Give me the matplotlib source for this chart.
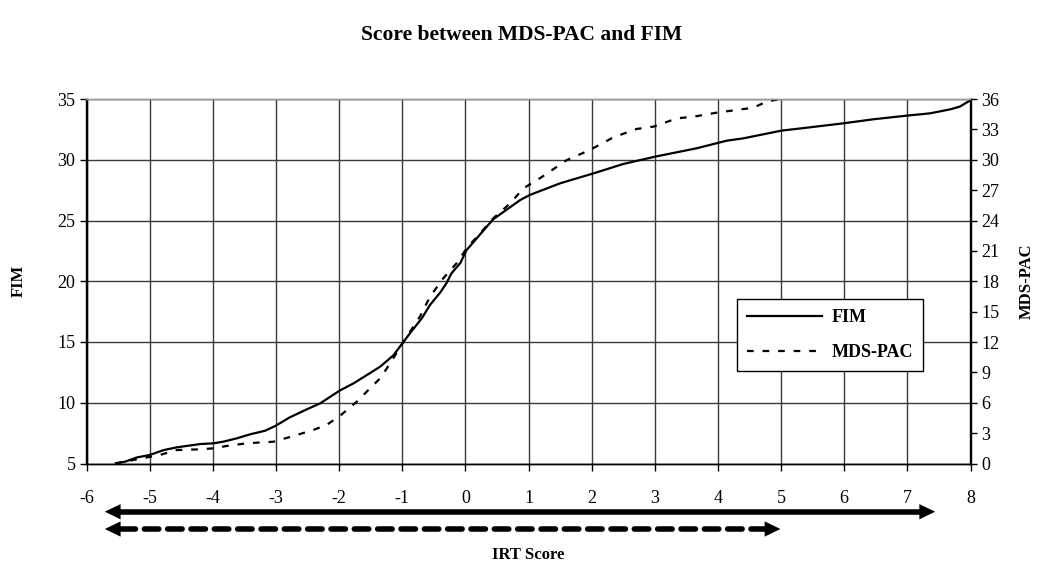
import matplotlib
matplotlib.use("Agg")
import matplotlib.pyplot as plt
import matplotlib.patches as mpatches
from matplotlib.lines import Line2D

# ---- data ----
fim_x = [-5.55, -5.39, -5.2, -5.0, -4.78, -4.57, -4.2, -3.99, -3.83, -3.62, -3.41, -3.17,
         -3.01, -2.78, -2.51, -2.30, -1.99, -1.77, -1.56, -1.35, -1.14, -0.99, -0.88, -0.69,
         -0.56, -0.40, -0.30, -0.22, -0.08, 0.02, 0.44, 0.87, 1.02, 1.5, 2.03, 2.50, 3.0,
         3.66, 4.14, 4.40, 5.01, 5.41, 5.99, 6.46, 6.99, 7.36, 7.68, 7.83, 8.0]
fim_y = [5.0, 5.15, 5.5, 5.7, 6.1, 6.33, 6.6, 6.66, 6.8, 7.07, 7.4, 7.7,
         8.09, 8.8, 9.46, 9.95, 11.0, 11.6, 12.28, 12.97, 13.9, 14.94, 15.7, 16.95,
         18.05, 19.06, 19.83, 20.65, 21.5, 22.57, 25.1, 26.69, 27.1, 28.06, 28.88, 29.65, 30.25,
         30.94, 31.57, 31.76, 32.4, 32.64, 33.0, 33.33, 33.63, 33.82, 34.15, 34.37, 34.9]

mds_x = [-5.55, -4.84, -4.57, -4.2, -3.99, -3.78, -3.46, -3.04, -2.72, -2.41, -2.20, -1.99,
         -1.72, -1.51, -1.35, -1.19, -0.98, -0.72, -0.56, -0.35, -0.14, 0.02, 0.28, 0.44,
         0.71, 0.92, 1.18, 1.61, 1.97, 2.34, 2.71, 2.98, 3.35, 3.61, 3.98, 4.56, 4.77, 4.96]
mds_y = [0.0, 0.84, 1.33, 1.40, 1.5, 1.73, 2.0, 2.15, 2.72, 3.31, 3.80, 4.69,
         6.1, 7.42, 8.41, 9.9, 12.03, 14.5, 16.47, 18.29, 19.77, 21.25, 23.06, 24.2,
         25.7, 27.18, 28.17, 29.98, 30.96, 32.2, 33.04, 33.27, 34.09, 34.25, 34.65, 35.14, 35.74, 35.97]

x_ticks = list(range(-6, 9))
fim_ticks = [5, 10, 15, 20, 25, 30, 35]
mds_ticks = list(range(0, 37, 3))

fim_range = [-5.71, 7.44]
mds_range = [-5.71, 4.99]

title = "Score between MDS-PAC and FIM"
xlabel = "IRT Score"
ylabel_left = "FIM"
ylabel_right = "MDS-PAC"

# ---- figure ----
plt.rcParams['font.family'] = ['Liberation Serif', 'DejaVu Serif']
fig = plt.figure(figsize=(10.44, 5.78), dpi=100)
ax = fig.add_axes([86.5/1044, 1 - 463.5/578, (970.5-86.5)/1044, (463.5-99)/578])
ax2 = ax.twinx()

grid_c = '#3a3a3a'
ax.set_xlim(-6, 8)
ax.set_ylim(5, 35)
ax2.set_ylim(0, 36)
ax.set_xticks(x_ticks)
ax.set_xticklabels([str(v) for v in x_ticks])
ax.set_yticks(fim_ticks)
ax2.set_yticks(mds_ticks)
ax.grid(True, color=grid_c, lw=1.0)
ax.set_axisbelow(True)

ax.tick_params(axis='both', direction='out', length=5, width=1, labelsize=13, color='black', pad=3)
ax.tick_params(axis='x', pad=14)
ax2.tick_params(axis='y', direction='out', length=5, width=1, labelsize=13, pad=3)

for a in (ax, ax2):
    a.spines['top'].set_color('#999999')
    a.spines['left'].set_color('black')
    a.spines['right'].set_color('black')
    a.spines['bottom'].set_color('black')
    for s in a.spines.values():
        s.set_linewidth(1.0)

l1, = ax.plot(fim_x, fim_y, color='black', lw=1.6, solid_capstyle='butt')
l2, = ax2.plot(mds_x, mds_y, color='black', lw=1.6, dashes=(3, 4))

ax.set_ylabel(ylabel_left, fontsize=12, fontweight='bold', labelpad=22)
ax2.set_ylabel(ylabel_right, fontsize=12, fontweight='bold', labelpad=14)
fig.text(528/1044, 1 - 555/578, xlabel, fontsize=12, fontweight='bold', ha='center', va='center')
fig.suptitle(title, fontsize=15.5, fontweight='bold', y=1 - 35/578, va='center')

leg = ax.legend([Line2D([0], [0], color='black', lw=1.6),
                 Line2D([0], [0], color='black', lw=1.6, dashes=(3, 4))],
                [ylabel_left, ylabel_right],
                loc='upper left', bbox_to_anchor=((736.7-86.5)/884, (463.5-299.3)/364.5),
                borderaxespad=0,
                frameon=True, fancybox=False, framealpha=1, edgecolor='black',
                prop={'weight': 'bold', 'size': 13}, handlelength=4.2, borderpad=0.55,
                labelspacing=1.0, handletextpad=0.5)
leg.get_frame().set_linewidth(1.0)
leg.set_zorder(10)

# range arrows below the axis
trans = ax.get_xaxis_transform()
head_len = 0.25   # data units
head_hw = 0.021   # axes fraction

def range_arrow(rng, yfrac, dashed):
    x0, x1 = rng
    if dashed:
        ax.plot([x0 + head_len, x1 - head_len], [yfrac, yfrac], transform=trans, clip_on=False,
                color='black', lw=4, dashes=(2.6, 1.6), dash_capstyle='round')
    else:
        ax.plot([x0 + head_len * 0.5, x1 - head_len * 0.5], [yfrac, yfrac], transform=trans,
                clip_on=False, color='black', lw=4, solid_capstyle='butt')
    for tip, d in ((x0, 1), (x1, -1)):
        poly = mpatches.Polygon([[tip, yfrac], [tip + d * head_len, yfrac + head_hw],
                                 [tip + d * head_len, yfrac - head_hw]], closed=True,
                                transform=trans, clip_on=False, color='black', lw=0)
        ax.add_patch(poly)

range_arrow(fim_range, (463.5 - 511.7) / 364.5, False)
range_arrow(mds_range, (463.5 - 529.0) / 364.5, True)

fig.savefig('out.png', dpi=100)
